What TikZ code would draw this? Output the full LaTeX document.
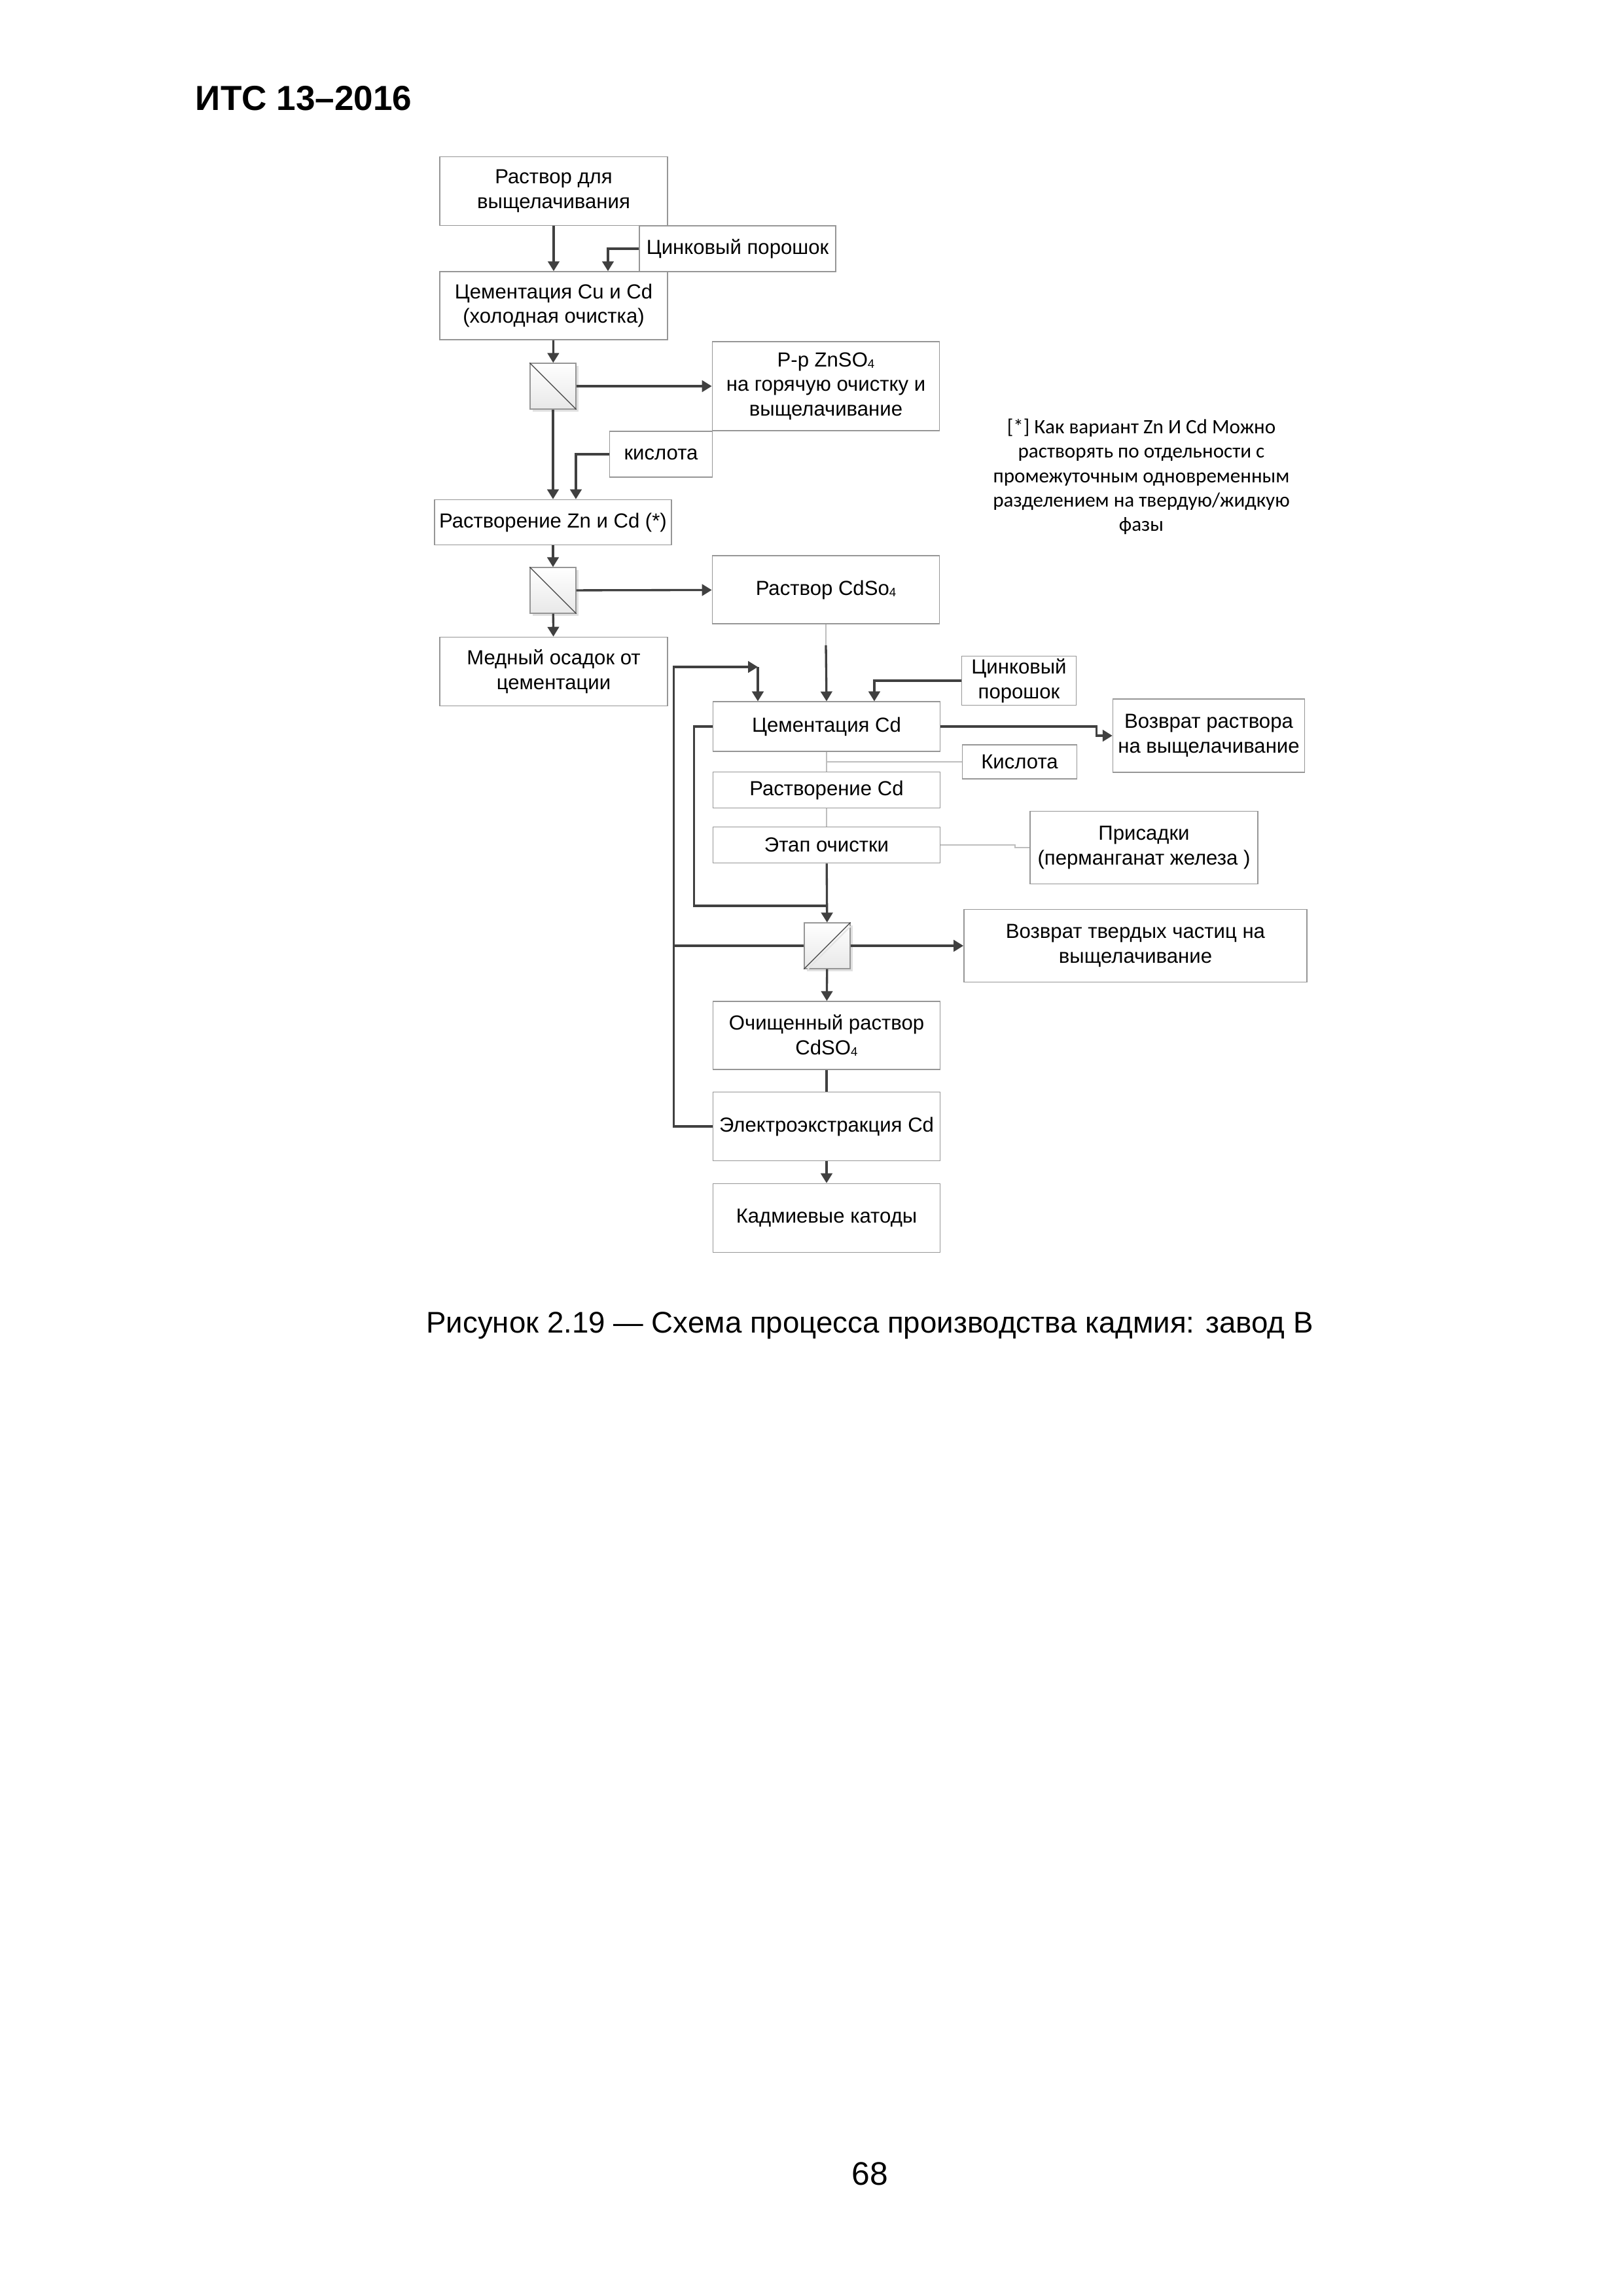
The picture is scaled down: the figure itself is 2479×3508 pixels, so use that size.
\documentclass[tikz,border=0pt]{standalone}
\usepackage{fontspec}
\setmainfont{Liberation Sans}
\newfontfamily\notefont{Carlito}
\usetikzlibrary{arrows.meta,shadows}
\definecolor{boxedge}{RGB}{150,150,150}
\definecolor{flowline}{RGB}{64,64,64}
\definecolor{faintline}{RGB}{190,190,190}
\newcommand{\ssub}[1]{\raisebox{-0.15ex}{\fontsize{4.5pt}{5pt}\selectfont #1}}

\begin{document}
\begin{tikzpicture}[x=0.08471mm, y=-0.08471mm,
  font=\fontsize{7.5pt}{9pt}\selectfont,
  blk/.style={draw=boxedge, line width=0.4pt, align=center, inner sep=1pt},
  sepbox/.style={draw=boxedge, line width=0.4pt, minimum size=5.9mm, inner sep=0pt,
    top color=white, bottom color=black!9,
    drop shadow={shadow xshift=0.35mm, shadow yshift=-0.35mm, fill=black!12, opacity=1}},
  arr/.style={-{Triangle[length=3.6pt,width=4.2pt]}, flowline, line width=0.8pt},
  ln/.style={flowline, line width=0.8pt},
  faint/.style={faintline, line width=0.5pt}]
  \useasboundingbox (0,0) rectangle (2479,3508);

  \node[anchor=base west, inner sep=0pt, font=\bfseries\fontsize{12.8pt}{15pt}\selectfont] (hdr) at (298,168) {ИТС 13–2016};

  % left column
  \node[blk, minimum width=29.5mm, minimum height=8.9mm] (leach) at (846,292) {Раствор для\\выщелачивания};
  \node[blk, minimum width=25.4mm, minimum height=5.9mm] (zinca) at (1127,380) {Цинковый порошок};
  \node[blk, minimum width=29.5mm, minimum height=8.8mm] (cemcu) at (846,467) {Цементация Cu и Cd\\(холодная очистка)};
  \node[sepbox] (sepa) at (845,590) {};
  \node[blk, minimum width=29.4mm, minimum height=11.5mm] (znso) at (1262,590) {Р-р ZnSO\ssub{4}\\на горячую очистку и\\выщелачивание};
  \node[blk, minimum width=13.3mm, minimum height=5.9mm] (acida) at (1010,694) {кислота};
  \node[blk, minimum width=30.7mm, minimum height=5.85mm] (dzn) at (845,798) {Растворение Zn и Cd (*)};
  \node[sepbox] (sepb) at (845,902) {};
  \node[blk, minimum width=29.4mm, minimum height=8.8mm] (cdso) at (1262,901) {Раствор CdSo\ssub{4}};
  \node[blk, minimum width=29.5mm, minimum height=8.9mm] (cuprec) at (846,1026) {Медный осадок от\\цементации};

  % note
  \node[anchor=north, align=center, inner sep=0pt, font=\notefont\fontsize{7.5pt}{9pt}\selectfont] (note) at (1744,639)
    {[*] Как вариант Zn И Cd Можно\\растворять по отдельности с\\промежуточным одновременным\\разделением на твердую/жидкую\\фазы};

  % right column
  \node[blk, minimum width=14.8mm, minimum height=5.9mm] (zincb) at (1557,1040) {Цинковый\\порошок};
  \node[blk, minimum width=29.4mm, minimum height=6.4mm] (cemcd) at (1263,1110) {Цементация Cd};
  \node[blk, minimum width=24.8mm, minimum height=9.5mm] (retsol) at (1847,1124) {Возврат раствора\\на выщелачивание};
  \node[blk, minimum width=14.8mm, minimum height=4.4mm] (acidb) at (1558,1164) {Кислота};
  \node[blk, minimum width=29.4mm, minimum height=4.66mm] (disscd) at (1263,1207) {Растворение Cd};
  \node[blk, minimum width=29.4mm, minimum height=4.66mm] (etap) at (1263,1291) {Этап очистки};
  \node[blk, minimum width=29.5mm, minimum height=9.4mm] (addit) at (1748,1295) {Присадки\\(перманганат железа )};
  \node[sepbox] (sepc) at (1264,1445) {};
  \node[blk, minimum width=44.4mm, minimum height=9.4mm] (retsolid) at (1735,1445) {Возврат твердых частиц на\\выщелачивание};
  \node[blk, minimum width=29.4mm, minimum height=8.8mm] (pure) at (1263,1582) {Очищенный раствор\\CdSO\ssub{4}};
  \node[blk, minimum width=29.4mm, minimum height=8.9mm] (electro) at (1263,1721) {Электроэкстракция Cd};
  \node[blk, minimum width=29.4mm, minimum height=8.9mm] (cathodes) at (1263,1861) {Кадмиевые катоды};

  \coordinate (join) at (1264,1384);
  \coordinate (loopin) at (1158,1019);
  \coordinate (loopmid) at (1031,1445);

  % separator diagonals
  \draw[black!75, line width=0.3pt] (sepa.north west) -- (sepa.south east);
  \draw[black!75, line width=0.3pt] (sepb.north west) -- (sepb.south east);
  \draw[black!75, line width=0.3pt] (sepc.south west) -- (sepc.north east);
  \draw[black!10, line width=0.5pt] ([xshift=0.5mm]sepc.south west) -- ([yshift=-0.5mm]sepc.north east);

  % flows, upper part
  \draw[arr] (leach) -- (cemcu);
  \draw[arr] (zinca.west) -| ([xshift=7.03mm]cemcu.north);
  \draw[arr] (cemcu) -- (sepa);
  \draw[arr] (sepa) -- (znso);
  \draw[arr] (sepa) -- (dzn);
  \draw[arr] (acida.west) -| ([xshift=2.96mm]dzn.north);
  \draw[arr] (dzn) -- (sepb);
  \draw[arr] (sepb) -- (cdso);
  \draw[arr] (sepb) -- (cuprec);

  % flows, cadmium part
  \draw[faint] (cdso.south) -- ++(0,32) coordinate (cdmid);
  \draw[arr] (cdmid) -- (cemcd.north);
  \draw[arr] (zincb.west) -| ([xshift=6.18mm]cemcd.north);
  \draw[arr] (cemcd.east) -- ++(238,0) |- (retsol.west);
  \draw[faint] (acidb.west) -- (acidb.west -| cemcd.south);
  \draw[faint] (cemcd.south) -- (disscd.north);
  \draw[faint] (disscd) -- (etap);
  \draw[faint] (etap.east) -- ++(114,0) |- (addit.west);
  \draw[ln] (cemcd.west) -- ++(-28,0) |- (join);
  \draw[arr] (etap) -- (sepc);
  \draw[arr] (electro.west) -- ++(-59,0) |- (loopin);
  \draw[arr] (loopin) -- (loopin |- cemcd.north);
  \draw[ln] (sepc.west) -- (loopmid);
  \draw[arr] (sepc) -- (retsolid);
  \draw[arr] (sepc) -- (pure);
  \draw[ln] (pure) -- (electro);
  \draw[arr] (electro) -- (cathodes);

  \node[anchor=base, inner sep=0pt, font=\fontsize{11pt}{13pt}\selectfont] (cap) at (1329,2036)
    {Рисунок 2.19 — Схема процесса производства кадмия: завод В};
  \node[anchor=base, inner sep=0pt, font=\fontsize{12pt}{14pt}\selectfont] (pg) at (1329,3338) {68};
\end{tikzpicture}
\end{document}
